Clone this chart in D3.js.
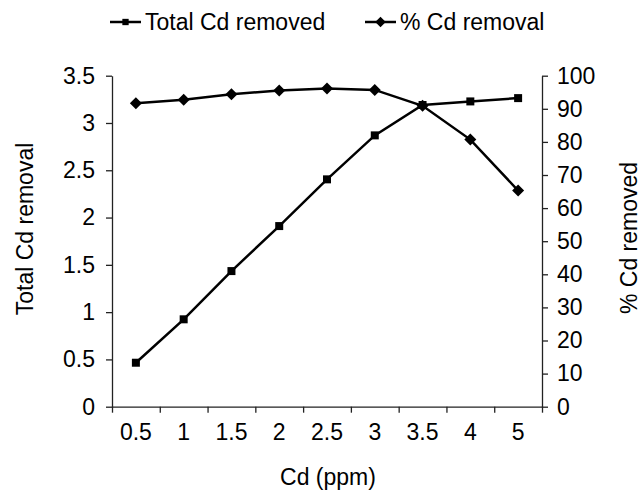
<!DOCTYPE html>
<html>
<head>
<meta charset="utf-8">
<script src="https://cdn.jsdelivr.net/npm/d3@7"></script>
<style>
  body { margin: 0; background: #fff; }
  svg text { font-family: "Liberation Sans", Arial, sans-serif; fill: #000; }
  .axis path, .axis line { stroke: #222; stroke-width: 1.3px; }
</style>
</head>
<body>
<svg id="chart" width="644" height="492"></svg>
<script>
const width = 644, height = 492;

// data
const categories = ["0.5", "1", "1.5", "2", "2.5", "3", "3.5", "4", "5"];
const totalRemoved = [0.465, 0.924, 1.434, 1.91, 2.404, 2.869, 3.19, 3.228, 3.263];
const pctRemoval = [91.7, 92.7, 94.4, 95.5, 96.1, 95.7, 90.9, 80.7, 65.3];
const leftTicks = [0, 0.5, 1, 1.5, 2, 2.5, 3, 3.5];
const rightTicks = [0, 10, 20, 30, 40, 50, 60, 70, 80, 90, 100];

const plot = { left: 112, right: 542, top: 75.7, bottom: 406.7 };
const fs = "23px";

const svg = d3.select("#chart");

const x = d3.scaleBand().domain(categories).range([plot.left, plot.right]);
const xEdges = d3.scaleLinear().domain([0, categories.length]).range([plot.left, plot.right]);
const y = d3.scaleLinear().domain([0, 3.5]).range([plot.bottom, plot.top]);
const y2 = d3.scaleLinear().domain([0, 100]).range([plot.bottom, plot.top]);
const cx = c => x(c) + x.bandwidth() / 2;

// x axis: tick marks at band edges, labels at centres
svg.append("g")
  .attr("class", "axis")
  .attr("transform", `translate(0,${plot.bottom})`)
  .call(d3.axisBottom(xEdges).tickValues(d3.range(categories.length + 1)).tickFormat("").tickSize(6).tickSizeOuter(0));
svg.append("g")
  .attr("transform", `translate(0,${plot.bottom})`)
  .call(d3.axisBottom(x).tickSize(0).tickPadding(17))
  .call(g => g.select(".domain").remove())
  .selectAll("text").style("font-size", fs);

// left axis
svg.append("g")
  .attr("class", "axis")
  .attr("transform", `translate(${plot.left},0)`)
  .call(d3.axisLeft(y).tickValues(leftTicks).tickFormat(d3.format("")).tickSize(6).tickSizeOuter(0).tickPadding(11))
  .selectAll("text").style("font-size", fs);

// right axis
svg.append("g")
  .attr("class", "axis")
  .attr("transform", `translate(${plot.right},0)`)
  .call(d3.axisRight(y2).tickValues(rightTicks).tickSize(6).tickSizeOuter(0).tickPadding(9))
  .selectAll("text").style("font-size", fs);

// axis titles
svg.append("text")
  .attr("text-anchor", "middle")
  .attr("transform", "rotate(-90)")
  .attr("x", -229)
  .attr("y", 33)
  .style("font-size", fs)
  .text("Total Cd removal");

svg.append("text")
  .attr("text-anchor", "middle")
  .attr("transform", "rotate(-90)")
  .attr("x", -238)
  .attr("y", 637)
  .style("font-size", fs)
  .text("% Cd removed");

svg.append("text")
  .attr("text-anchor", "middle")
  .attr("x", 328)
  .attr("y", 485)
  .style("font-size", fs)
  .text("Cd (ppm)");

// lines
const lineLeft = d3.line().x((d, i) => cx(categories[i])).y(d => y(d));
const lineRight = d3.line().x((d, i) => cx(categories[i])).y(d => y2(d));

svg.append("path")
  .datum(totalRemoved)
  .attr("fill", "none")
  .attr("stroke", "#000")
  .attr("stroke-width", 2.5)
  .attr("d", lineLeft);

svg.append("path")
  .datum(pctRemoval)
  .attr("fill", "none")
  .attr("stroke", "#000")
  .attr("stroke-width", 2.5)
  .attr("d", lineRight);

const square = d3.symbol().type(d3.symbolSquare).size(64);
const diamond = d3.symbol().type(d3.symbolSquare).size(72); // rotated 45deg below

svg.selectAll(".sq")
  .data(totalRemoved)
  .enter().append("path")
  .attr("class", "sq")
  .attr("d", square)
  .attr("transform", (d, i) => `translate(${cx(categories[i])},${y(d)})`)
  .attr("fill", "#000");

svg.selectAll(".dm")
  .data(pctRemoval)
  .enter().append("path")
  .attr("class", "dm")
  .attr("d", diamond)
  .attr("transform", (d, i) => `translate(${cx(categories[i])},${y2(d)}) rotate(45)`)
  .attr("fill", "#000");

// legend
const legendItems = [
  { label: "Total Cd removed", sym: d3.symbol().type(d3.symbolSquare).size(40), rot: 0, x: 110 },
  { label: "% Cd removal", sym: d3.symbol().type(d3.symbolSquare).size(56), rot: 45, x: 365 }
];
const legend = svg.selectAll(".legend")
  .data(legendItems)
  .enter().append("g")
  .attr("class", "legend")
  .attr("transform", d => `translate(${d.x},22)`);
legend.append("line")
  .attr("x1", 0).attr("x2", 31)
  .attr("stroke", "#000").attr("stroke-width", 2.5);
legend.append("path")
  .attr("d", d => d.sym())
  .attr("transform", d => `translate(15.5,0) rotate(${d.rot})`)
  .attr("fill", "#000");
legend.append("text")
  .attr("x", 35)
  .attr("dy", "0.35em")
  .style("font-size", fs)
  .text(d => d.label);
</script>
</body>
</html>
